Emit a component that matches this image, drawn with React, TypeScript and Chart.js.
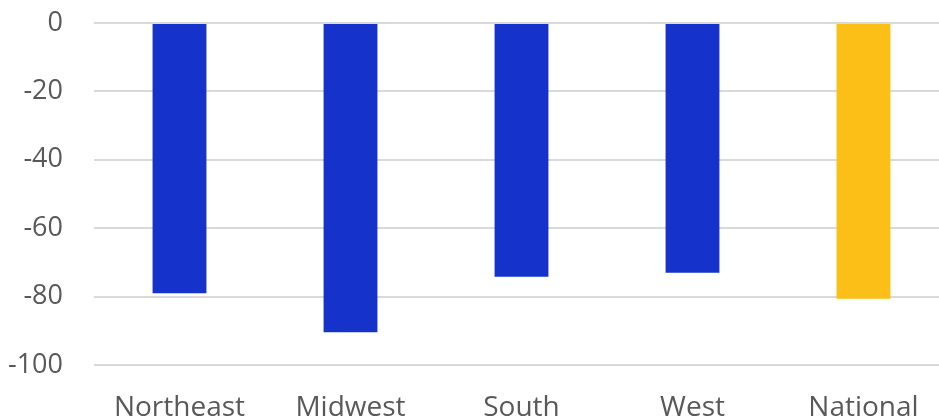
import React, { useEffect, useRef } from "react";
import { Chart, registerables } from "chart.js";

Chart.register(...registerables);

const categories = ["Northeast", "Midwest", "South", "West", "National"];
const values = [-79.0, -90.4, -74.2, -73.0, -80.6];
const barColors = ["#1533CB", "#1533CB", "#1533CB", "#1533CB", "#FCBF17"];
const yTicks = [0, -20, -40, -60, -80, -100];

export default function App() {
  const ref = useRef<HTMLCanvasElement | null>(null);
  useEffect(() => {
    if (!ref.current) return;
    const chart = new Chart(ref.current, {
      type: "bar",
      data: {
        labels: categories,
        datasets: [
          {
            data: values,
            backgroundColor: barColors,
            borderWidth: 0,
            barPercentage: 0.63,
            categoryPercentage: 0.5,
          },
        ],
      },
      options: {
        animation: false,
        responsive: false,
        maintainAspectRatio: false,
        layout: { padding: { top: 23, left: 0, right: 0, bottom: 0 } },
        plugins: { legend: { display: false }, tooltip: { enabled: false } },
        scales: {
          x: {
            grid: { display: false },
            border: { display: false },
            ticks: {
              color: "#595959",
              font: { family: "Open Sans", size: 28 },
              padding: 18,
              maxRotation: 0,
            },
            afterFit: (s: any) => {
              s.height = 52;
              s.paddingLeft = 0;
              s.paddingRight = 0;
            },
          },
          y: {
            min: -100,
            max: 0,
            afterBuildTicks: (s: any) => {
              s.ticks = yTicks.map((v) => ({ value: v }));
            },
            grid: { color: "#D9D9D9", lineWidth: 2, drawTicks: false },
            border: { display: false },
            ticks: {
              color: "#595959",
              font: { family: "Open Sans", size: 27 },
              padding: 31,
            },
            afterFit: (s: any) => {
              s.width = 94;
              s.paddingTop = 0;
              s.paddingBottom = 0;
            },
          },
        },
      },
    });
    return () => chart.destroy();
  }, []);
  return (
    <div
      style={{
        position: "absolute",
        left: 0,
        top: 0,
        width: 939,
        height: 417,
        overflow: "hidden",
        background: "#fff",
      }}
    >
      <canvas ref={ref} width={949} height={417} style={{ display: "block" }} />
    </div>
  );
}
